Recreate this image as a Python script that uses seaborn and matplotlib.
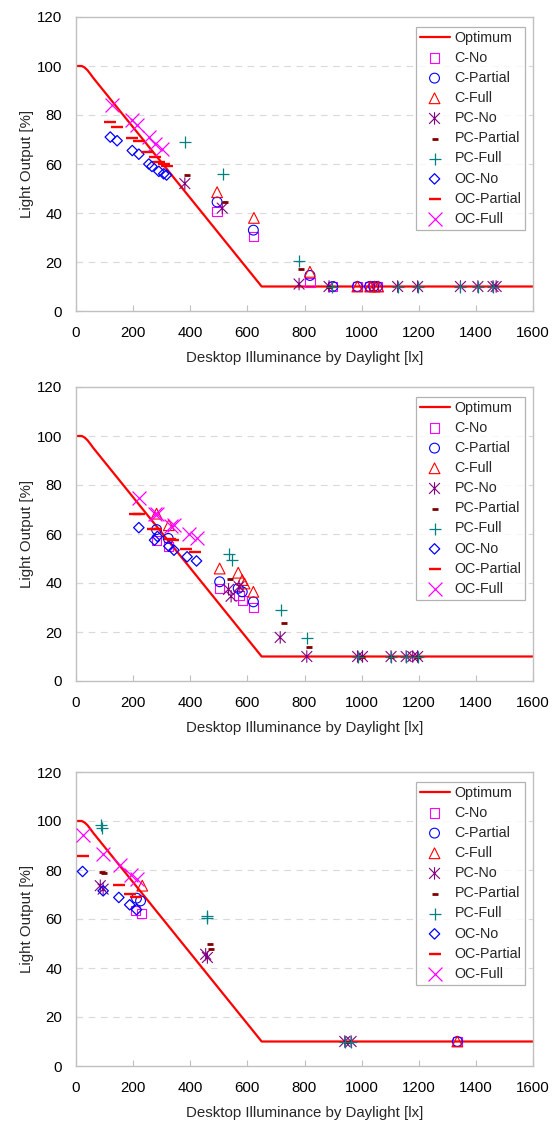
import numpy as np
import pandas as pd
import matplotlib
matplotlib.use("Agg")
import matplotlib.pyplot as plt
from matplotlib.path import Path
import seaborn as sns

# ---------------- data ----------------
OPT_X = [0, 20, 30, 40, 50, 60, 650, 1600]
OPT_Y = [100, 100, 99.4, 98.3, 96.8, 95.2, 10, 10]

X_TICKS = [0, 200, 400, 600, 800, 1000, 1200, 1400, 1600]
Y_TICKS = [0, 20, 40, 60, 80, 100, 120]

SERIES = ["C-No", "C-Partial", "C-Full", "PC-No", "PC-Partial", "PC-Full",
          "OC-No", "OC-Partial", "OC-Full"]

# Panel 1
P1_C_NO_X = [494, 621, 819, 899, 985, 1028, 1042, 1055]
P1_C_NO_Y = [40.5, 30.5, 11.5, 10, 10, 10, 10, 10]
P1_C_PARTIAL_X = [494, 621, 819, 899, 985, 1028, 1042, 1055]
P1_C_PARTIAL_Y = [44.5, 33, 14.5, 10, 10, 10, 10, 10]
P1_C_FULL_X = [494, 623, 819, 985, 1030, 1045, 1058]
P1_C_FULL_Y = [48.5, 38, 16, 10, 10, 10, 10]
P1_PC_NO_X = [381, 512, 781, 886, 1126, 1196, 1346, 1407, 1460, 1471]
P1_PC_NO_Y = [52, 42, 11, 10, 10, 10, 10, 10, 10, 10]
P1_PC_PARTIAL_X = [389, 520, 787, 886]
P1_PC_PARTIAL_Y = [55.5, 44.5, 17, 10]
P1_PC_FULL_X = [381, 515, 781, 898, 1126, 1196, 1346, 1407, 1460]
P1_PC_FULL_Y = [69, 56, 20.5, 10, 10, 10, 10, 10, 10]
P1_OC_NO_X = [120, 144, 197, 220, 255, 266, 290, 307, 317]
P1_OC_NO_Y = [71, 69.5, 65.5, 64, 60, 59, 57, 56, 55.5]
P1_OC_PARTIAL_X = [120, 144, 197, 220, 249, 278, 290, 307, 319]
P1_OC_PARTIAL_Y = [77, 75, 70.5, 69.5, 65, 63, 61, 60, 59]
P1_OC_FULL_X = [125, 195, 215, 255, 275, 300]
P1_OC_FULL_Y = [84, 78, 76, 71, 68, 66]

# Panel 2
P2_C_NO_X = [282, 323, 503, 571, 582, 621]
P2_C_NO_Y = [57.5, 54.8, 37.8, 35, 33, 30]
P2_C_PARTIAL_X = [282, 323, 503, 568, 582, 621]
P2_C_PARTIAL_Y = [61.8, 58.2, 40.5, 37.8, 36.4, 32.3]
P2_C_FULL_X = [282, 325, 503, 568, 582, 590, 621]
P2_C_FULL_Y = [68.3, 63.6, 45.9, 44.2, 41.2, 39.8, 36.4]
P2_PC_NO_X = [534, 543, 571, 715, 808, 986, 1003, 1103, 1156, 1179, 1196]
P2_PC_NO_Y = [37.4, 34.6, 38.5, 17.8, 10, 10, 10, 10, 10, 10, 10]
P2_PC_PARTIAL_X = [540, 729, 816, 1003, 1103, 1196]
P2_PC_PARTIAL_Y = [41.5, 23.5, 13.7, 10, 10, 10]
P2_PC_FULL_X = [536, 547, 717, 808, 986, 1103, 1156, 1196]
P2_PC_FULL_Y = [51.8, 49.3, 28.9, 17.4, 10, 10, 10, 10]
P2_OC_NO_X = [220, 275, 285, 325, 343, 389, 422]
P2_OC_NO_Y = [62.6, 57.5, 59, 55, 53.4, 50.7, 49]
P2_OC_PARTIAL_X = [208, 222, 268, 280, 330, 340, 385, 418]
P2_OC_PARTIAL_Y = [68, 68, 62, 62, 58, 57.5, 54, 52.5]
P2_OC_FULL_X = [220, 278, 285, 331, 343, 395, 422]
P2_OC_FULL_Y = [74.7, 68.3, 68, 63.2, 63.6, 60, 58.2]

# Panel 3
P3_C_NO_X = [208, 229, 1335]
P3_C_NO_Y = [63.4, 62.4, 10]
P3_C_PARTIAL_X = [212, 226, 1335]
P3_C_PARTIAL_Y = [68.5, 67.4, 10]
P3_C_FULL_X = [232, 1335]
P3_C_FULL_Y = [73.6, 10]
P3_PC_NO_X = [85, 95, 454, 460, 941, 963]
P3_PC_NO_Y = [73.6, 72.2, 45.6, 44.3, 10, 10]
P3_PC_PARTIAL_X = [92, 98, 469, 471, 950]
P3_PC_PARTIAL_Y = [79, 78.6, 50, 47.7, 10]
P3_PC_FULL_X = [88, 90, 457, 460, 941, 963]
P3_PC_FULL_Y = [98.5, 97.3, 61.3, 60.4, 10, 10]
P3_OC_NO_X = [23, 95, 150, 188, 212]
P3_OC_NO_Y = [79.4, 71.5, 68.8, 65.8, 63.8]
P3_OC_PARTIAL_X = [23, 150, 188, 210]
P3_OC_PARTIAL_Y = [85.6, 74, 70.4, 69]
P3_OC_FULL_X = [23, 95, 153, 193, 214]
P3_OC_FULL_Y = [94.4, 86.5, 81.9, 78, 76.3]

PANELS = [
    [(P1_C_NO_X, P1_C_NO_Y), (P1_C_PARTIAL_X, P1_C_PARTIAL_Y), (P1_C_FULL_X, P1_C_FULL_Y),
     (P1_PC_NO_X, P1_PC_NO_Y), (P1_PC_PARTIAL_X, P1_PC_PARTIAL_Y), (P1_PC_FULL_X, P1_PC_FULL_Y),
     (P1_OC_NO_X, P1_OC_NO_Y), (P1_OC_PARTIAL_X, P1_OC_PARTIAL_Y), (P1_OC_FULL_X, P1_OC_FULL_Y)],
    [(P2_C_NO_X, P2_C_NO_Y), (P2_C_PARTIAL_X, P2_C_PARTIAL_Y), (P2_C_FULL_X, P2_C_FULL_Y),
     (P2_PC_NO_X, P2_PC_NO_Y), (P2_PC_PARTIAL_X, P2_PC_PARTIAL_Y), (P2_PC_FULL_X, P2_PC_FULL_Y),
     (P2_OC_NO_X, P2_OC_NO_Y), (P2_OC_PARTIAL_X, P2_OC_PARTIAL_Y), (P2_OC_FULL_X, P2_OC_FULL_Y)],
    [(P3_C_NO_X, P3_C_NO_Y), (P3_C_PARTIAL_X, P3_C_PARTIAL_Y), (P3_C_FULL_X, P3_C_FULL_Y),
     (P3_PC_NO_X, P3_PC_NO_Y), (P3_PC_PARTIAL_X, P3_PC_PARTIAL_Y), (P3_PC_FULL_X, P3_PC_FULL_Y),
     (P3_OC_NO_X, P3_OC_NO_Y), (P3_OC_PARTIAL_X, P3_OC_PARTIAL_Y), (P3_OC_FULL_X, P3_OC_FULL_Y)],
]

# ---------------- styles ----------------
ASTERISK = Path([(-1, -1), (1, 1), (-1, 1), (1, -1), (0, -1.15), (0, 1.15)],
                [Path.MOVETO, Path.LINETO, Path.MOVETO, Path.LINETO, Path.MOVETO, Path.LINETO])

STYLES = {
    "C-No":       dict(marker="s", s=44, facecolors="none", edgecolors="#FF00FF", linewidths=0.8),
    "C-Partial":  dict(marker="o", s=50, facecolors="none", edgecolors="#0000FF", linewidths=0.8),
    "C-Full":     dict(marker="^", s=60, facecolors="none", edgecolors="#FF0000", linewidths=0.8),
    "PC-No":      dict(marker=ASTERISK, s=80, facecolors="none", edgecolors="#800080", linewidths=0.8),
    "PC-Partial": dict(marker="_", s=22, color="#800000", linewidths=2.0),
    "PC-Full":    dict(marker="+", s=80, color="#008080", linewidths=0.9),
    "OC-No":      dict(marker="D", s=28, facecolors="none", edgecolors="#0000FF", linewidths=0.9),
    "OC-Partial": dict(marker="_", s=70, color="#FF0000", linewidths=1.7),
    "OC-Full":    dict(marker="x", s=100, color="#FF00FF", linewidths=0.9),
}

sns.set_theme(style="white")
plt.rcParams["font.family"] = ["Liberation Sans", "DejaVu Sans"]

W, H = 558, 1124
fig = plt.figure(figsize=(W / 100, H / 100), dpi=100)

left, right = 76 / W, 533 / W
bottoms = [1 - 311 / H, 1 - 681 / H, 1 - 1066 / H]
height = 294 / H

for pi, series_data in enumerate(PANELS):
    ax = fig.add_axes([left, bottoms[pi], right - left, height])
    opt = pd.DataFrame({"x": OPT_X, "y": OPT_Y})
    sns.lineplot(data=opt, x="x", y="y", ax=ax, color="#FF0000", linewidth=1.6,
                 label="Optimum", sort=False, zorder=2)
    for name, (xs, ys) in zip(SERIES, series_data):
        df = pd.DataFrame({"x": xs, "y": ys})
        sns.scatterplot(data=df, x="x", y="y", ax=ax, label=name, zorder=3,
                        **STYLES[name])

    ax.set_xlim(0, 1600)
    ax.set_ylim(0, 120)
    ax.set_xticks(X_TICKS)
    ax.set_yticks(Y_TICKS)
    ax.set_xticklabels([str(t) for t in X_TICKS])
    ax.set_yticklabels([str(t) for t in Y_TICKS])
    for yv in Y_TICKS[1:-1]:
        ax.axhline(yv, color="#d9d9d9", linewidth=0.8, linestyle=(0, (6, 5)), zorder=1)
    for sp in ax.spines.values():
        sp.set_color("#c0c0c0")
        sp.set_linewidth(1.0)
    ax.tick_params(axis="both", direction="in", length=4, width=0.8, color="#c0c0c0",
                   labelsize=10.8, labelcolor="black")
    ax.tick_params(axis="x", pad=11, bottom=True)
    ax.tick_params(axis="y", pad=10, left=True)
    ax.set_xlabel("Desktop Illuminance by Daylight [lx]", fontsize=10.8, labelpad=8)
    ax.set_ylabel("Light Output [%]", fontsize=10.8, labelpad=2)

    leg = ax.legend(loc="upper right", bbox_to_anchor=(0.9825, 0.966), borderaxespad=0,
                    fontsize=10.3, frameon=True, fancybox=False, scatterpoints=1,
                    handlelength=2.1, handletextpad=0.35, labelspacing=0.43,
                    borderpad=0.25)
    leg.get_frame().set_edgecolor("#a0a0a0")
    leg.get_frame().set_linewidth(0.9)

fig.savefig("out.png", dpi=100)
